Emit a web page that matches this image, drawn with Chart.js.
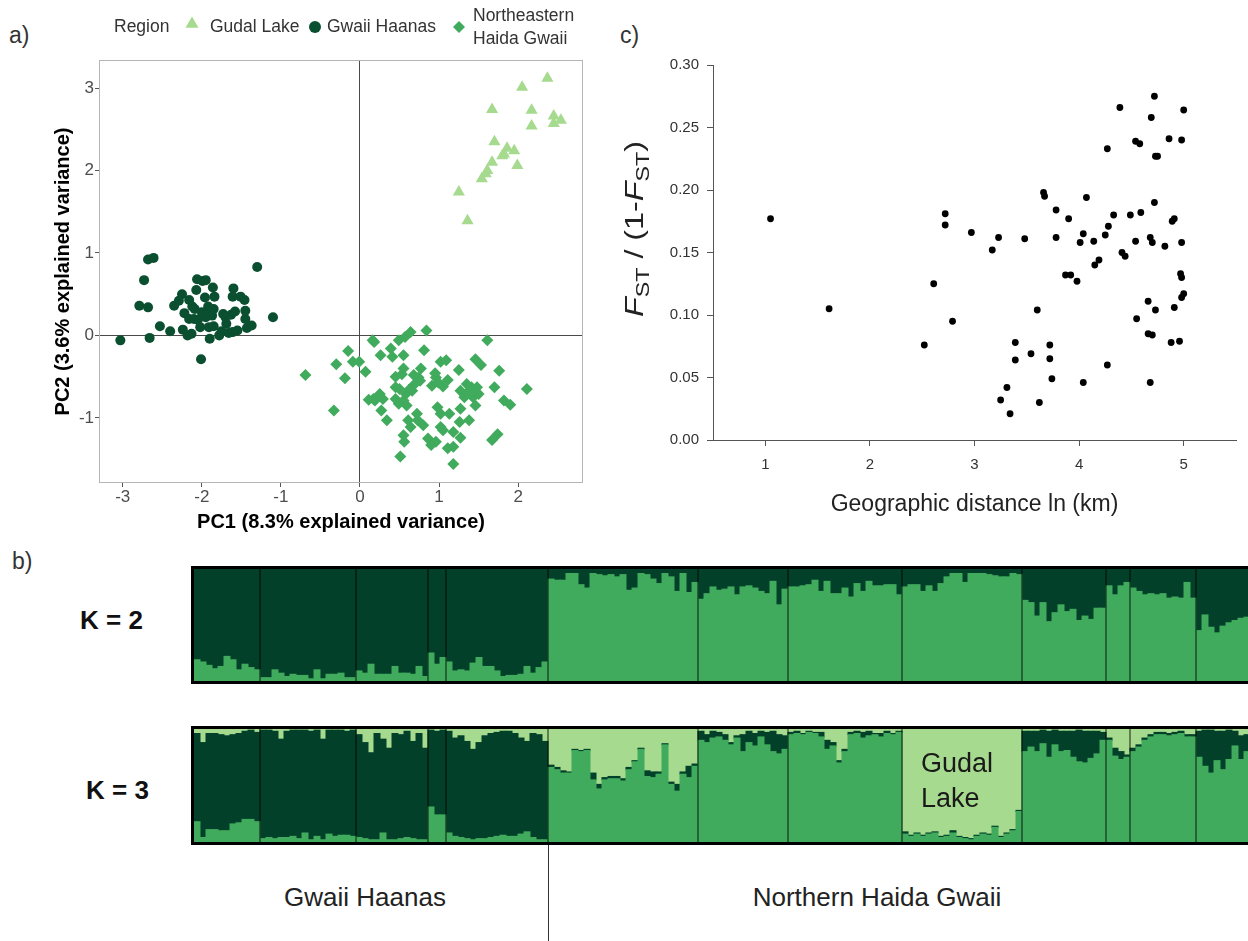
<!DOCTYPE html>
<html>
<head>
<meta charset="utf-8">
<title>Haida Gwaii population structure</title>
<script src="https://cdn.jsdelivr.net/npm/chart.js@4.4.1/dist/chart.umd.min.js"></script>
<style>
  html, body { margin: 0; padding: 0; background: #fff; }
  body { width: 1248px; height: 941px; overflow: hidden; position: relative;
         font-family: "Liberation Sans", Arial, Helvetica, sans-serif; }
  canvas { position: absolute; }
  .txt { position: absolute; white-space: nowrap; line-height: 1; color: #222; }
</style>
</head>
<body>
<div class="txt" style="left:9px;top:24px;font-size:23px;color:#333">a)</div>
<div class="txt" style="left:620px;top:24px;font-size:23px;color:#333">c)</div>
<div class="txt" style="left:12px;top:550px;font-size:23px;color:#333">b)</div>
<div class="txt" style="left:80px;top:607px;font-size:26px;font-weight:bold;color:#111">K = 2</div>
<div class="txt" style="left:86px;top:777px;font-size:26px;font-weight:bold;color:#111">K = 3</div>
<div class="txt" style="left:365px;top:884px;font-size:26px;transform:translateX(-50%)">Gwaii Haanas</div>
<div class="txt" style="left:877px;top:884px;font-size:26px;transform:translateX(-50%)">Northern Haida Gwaii</div>

<canvas id="pca" width="610" height="545" style="left:0;top:0"></canvas>
<canvas id="ibd" width="638" height="545" style="left:610px;top:0"></canvas>
<canvas id="k2" width="1270" height="140" style="left:0;top:555px"></canvas>
<canvas id="k3" width="1270" height="226" style="left:0;top:715px"></canvas>

<script>
// ---------- a) PCA scores (PC1, PC2) per region ----------
const gudalLake = [
  [2.37,3.12],[2.05,3.01],[1.67,2.74],[2.17,2.73],[2.45,2.66],[2.54,2.61],[2.45,2.57],
  [2.17,2.54],[1.70,2.35],[1.86,2.27],[1.82,2.20],[1.95,2.24],[1.99,2.06],[1.67,2.10],
  [1.61,2.00],[1.59,1.96],[1.54,1.90],[1.25,1.74],[1.36,1.39],[1.80,2.18]
];
const gwaiiHaanas = [
  [-3.03,-0.06],[-2.66,-0.03],[-2.68,0.92],[-2.61,0.94],[-2.73,0.67],[-2.79,0.36],[-2.68,0.34],
  [-2.53,0.11],[-2.40,0.05],[-2.35,0.36],[-2.25,0.50],[-2.29,0.42],[-2.16,0.43],[-2.24,0.07],
  [-2.18,0.00],[-2.13,0.02],[-2.16,0.20],[-2.09,0.32],[-2.06,0.68],[-2.07,0.55],[-2.01,-0.29],
  [-1.99,0.66],[-1.96,0.46],[-1.95,0.67],[-1.86,0.58],[-1.84,0.47],[-1.85,0.32],[-1.90,-0.04],
  [-1.78,0.00],[-2.05,0.19],[-2.02,0.10],[-1.95,0.22],[-1.91,0.10],[-1.87,0.24],[-1.85,0.11],
  [-1.89,0.28],[-2.00,0.28],[-2.10,0.20],[-1.69,0.14],[-1.63,0.25],[-1.60,0.57],[-1.61,0.47],
  [-1.58,0.29],[-1.61,0.04],[-1.55,0.06],[-1.51,0.47],[-1.46,0.43],[-1.45,0.30],[-1.45,0.20],
  [-1.43,0.09],[-1.37,0.12],[-1.30,0.83],[-1.10,0.22],[-1.70,0.22],[-1.73,0.26],[-2.12,0.35],
  [-1.92,0.35],[-1.75,0.05],[-2.22,0.27],[-1.66,0.03]
];
const northeastern = [
  [-0.69,-0.48],[-0.33,-0.91],[-0.30,-0.35],[-0.19,-0.52],[-0.15,-0.19],[-0.09,-0.32],[-0.01,-0.32],
  [0.07,-0.44],[0.16,-0.06],[0.18,-0.08],[0.26,-0.24],[0.11,-0.78],[0.17,-0.77],[0.29,-0.77],
  [0.27,-0.91],[0.34,-1.03],[0.39,-0.16],[0.41,-0.26],[0.45,-0.63],[0.45,-0.77],[0.49,-0.06],
  [0.57,-0.02],[0.64,0.04],[0.55,-0.24],[0.55,-0.40],[0.53,-0.47],[0.55,-0.79],[0.59,-0.85],
  [0.58,-0.71],[0.66,-0.67],[0.68,-0.60],[0.72,-0.95],[0.64,-1.11],[0.55,-1.21],[0.56,-1.29],
  [0.51,-1.47],[0.61,-1.03],[0.74,-0.51],[0.77,-0.40],[0.76,-0.55],[0.81,-0.18],[0.84,0.06],
  [0.80,-1.09],[0.86,-1.25],[0.95,-0.46],[0.96,-0.51],[0.99,-0.57],[0.98,-0.87],[1.02,-0.95],
  [1.02,-0.32],[1.09,-0.30],[1.02,-1.11],[1.05,-1.15],[0.96,-1.29],[1.11,-0.54],[1.13,-0.95],
  [1.18,-1.17],[1.11,-1.37],[1.18,-1.35],[1.18,-1.56],[1.25,-0.42],[1.26,-1.05],[1.27,-1.24],
  [1.35,-0.59],[1.36,-0.69],[1.38,-1.03],[1.41,-0.63],[1.43,-0.75],[1.45,-0.67],[1.46,-0.29],
  [1.53,-0.36],[1.46,-0.85],[1.48,-0.63],[1.61,-0.06],[1.67,-1.27],[1.70,-0.63],[1.74,-1.20],
  [1.76,-0.43],[1.82,-0.79],[1.90,-0.84],[2.11,-0.65],[1.27,-0.67],[1.32,-0.75],[0.91,-0.61],
  [0.68,-0.48],[0.73,-1.03],[0.50,-0.65],[0.45,-0.50],[0.49,-0.83],[0.19,-0.79],[0.25,-0.71],
  [0.90,-1.33],[1.27,-0.89],[1.50,-0.71],[1.40,-0.71],[0.62,-0.66],[1.05,-0.62]
];
const regionNames = ['Gudal Lake', 'Gwaii Haanas', ['Northeastern', 'Haida Gwaii']];

// ---------- c) isolation by distance: [ln km, FST/(1-FST)] ----------
const isolationByDistance = [
  [1.05,0.177],[1.61,0.105],[2.52,0.076],[2.61,0.125],[2.72,0.181],[2.72,0.172],[2.79,0.095],
  [2.97,0.166],[3.17,0.152],[3.23,0.162],[3.25,0.032],[3.31,0.042],[3.34,0.021],[3.39,0.064],
  [3.39,0.078],[3.48,0.161],[3.54,0.069],[3.60,0.104],[3.62,0.030],[3.66,0.198],[3.67,0.195],
  [3.72,0.076],[3.72,0.065],[3.74,0.049],[3.78,0.184],[3.78,0.162],[3.87,0.132],[3.90,0.177],
  [3.92,0.132],[3.98,0.127],[4.01,0.158],[4.04,0.165],[4.04,0.046],[4.07,0.194],[4.14,0.159],
  [4.15,0.140],[4.19,0.144],[4.25,0.164],[4.27,0.233],[4.27,0.060],[4.28,0.171],[4.33,0.180],
  [4.39,0.266],[4.41,0.150],[4.44,0.147],[4.49,0.180],[4.54,0.239],[4.58,0.237],[4.54,0.159],
  [4.55,0.097],[4.59,0.182],[4.66,0.085],[4.66,0.111],[4.68,0.046],[4.69,0.258],[4.68,0.162],
  [4.70,0.158],[4.70,0.084],[4.72,0.275],[4.73,0.227],[4.75,0.227],[4.72,0.190],[4.73,0.104],
  [4.82,0.155],[4.86,0.241],[4.88,0.078],[4.89,0.175],[4.91,0.177],[4.91,0.106],[4.96,0.079],
  [4.97,0.133],[4.98,0.158],[4.98,0.240],[4.98,0.130],[5.00,0.264],[4.98,0.114],[5.00,0.117]
];
const distanceTicks = [1, 2, 3, 4, 5];

// ---------- b) STRUCTURE membership, individuals ordered by sampling site ----------
// individuals per sampling site, left to right (first five: Gwaii Haanas)
const popSizes = [11, 16, 12, 3, 17, 25, 15, 19, 20, 14, 4, 11, 10];
const gwaiiSiteCount = 5;
const gudalSiteIndex = 8;

// K = 2: membership in the green cluster; the rest belongs to the dark cluster
const k2Green = [
  0.19,0.17,0.14,0.11,0.13,0.22,0.19,0.10,0.15,0.12,0.10,
  0.03,0.03,0.10,0.07,0.04,0.06,0.05,0.05,0.02,0.10,0.02,0.06,0.06,0.07,0.03,0.03,
  0.09,0.07,0.15,0.06,0.06,0.06,0.13,0.07,0.07,0.06,0.13,0.04,
  0.25,0.15,0.21,
  0.17,0.09,0.10,0.09,0.16,0.21,0.13,0.13,0.09,0.04,0.05,0.05,0.06,0.13,0.07,0.12,0.17,
  0.91,0.90,0.90,0.96,0.96,0.86,0.83,0.96,0.95,0.94,0.95,0.93,0.95,0.81,0.83,0.96,0.95,0.91,0.87,0.96,0.93,0.80,0.96,0.79,0.88,
  0.73,0.78,0.84,0.81,0.82,0.84,0.77,0.84,0.85,0.83,0.80,0.78,0.89,0.68,0.82,
  0.84,0.84,0.85,0.86,0.90,0.80,0.89,0.78,0.78,0.83,0.75,0.87,0.80,0.89,0.85,0.85,0.86,0.86,0.77,
  0.84,0.86,0.86,0.80,0.85,0.80,0.87,0.93,0.96,0.96,0.88,0.96,0.96,0.96,0.95,0.94,0.93,0.93,0.96,0.95,
  0.72,0.70,0.58,0.70,0.53,0.61,0.68,0.62,0.64,0.54,0.58,0.55,0.65,0.65,
  0.85,0.77,0.85,0.88,
  0.83,0.80,0.77,0.78,0.77,0.78,0.74,0.75,0.74,0.88,0.74,
  0.45,0.59,0.48,0.43,0.49,0.52,0.54,0.56,0.57,0.58
];

// K = 3: green cluster (bottom) and Gudal cluster (top); the dark cluster fills the middle
const k3Green = [
  0.18,0.04,0.11,0.11,0.10,0.10,0.16,0.17,0.20,0.20,0.18,
  0.03,0.04,0.03,0.04,0.04,0.05,0.03,0.08,0.02,0.05,0.02,0.07,0.05,0.06,0.06,0.05,
  0.04,0.03,0.02,0.02,0.08,0.02,0.02,0.03,0.04,0.03,0.02,0.02,
  0.31,0.24,0.24,
  0.08,0.05,0.04,0.03,0.02,0.03,0.03,0.04,0.05,0.06,0.05,0.05,0.07,0.09,0.04,0.02,0.02,
  0.66,0.64,0.61,0.61,0.81,0.80,0.81,0.55,0.47,0.55,0.56,0.56,0.54,0.64,0.71,0.82,0.58,0.57,0.60,0.86,0.51,0.45,0.60,0.57,0.67,
  0.90,0.88,0.92,0.93,0.90,0.86,0.92,0.80,0.88,0.85,0.93,0.86,0.80,0.78,0.82,
  0.95,0.96,0.95,0.97,0.96,0.93,0.82,0.85,0.70,0.80,0.95,0.96,0.92,0.94,0.95,0.93,0.96,0.95,0.97,
  0.07,0.05,0.07,0.05,0.07,0.08,0.04,0.05,0.08,0.04,0.03,0.02,0.05,0.07,0.06,0.13,0.04,0.07,0.10,0.27,
  0.80,0.84,0.80,0.87,0.75,0.86,0.80,0.81,0.75,0.71,0.70,0.74,0.78,0.90,
  0.90,0.76,0.73,0.75,
  0.80,0.84,0.90,0.93,0.95,0.95,0.94,0.95,0.96,0.93,0.93,
  0.75,0.67,0.61,0.72,0.64,0.73,0.85,0.73,0.80,0.79
];
const k3Gudal = [
  0.04,0.12,0.04,0.04,0.05,0.06,0.05,0.04,0.02,0.01,0.03,
  0.01,0.01,0.02,0.09,0.02,0.01,0.01,0.01,0.02,0.01,0.09,0.01,0.01,0.01,0.02,0.01,
  0.05,0.12,0.21,0.04,0.09,0.17,0.04,0.05,0.02,0.11,0.04,0.17,
  0.01,0.02,0.01,
  0.02,0.08,0.06,0.11,0.18,0.12,0.06,0.04,0.03,0.02,0.02,0.04,0.08,0.11,0.04,0.05,0.11,
  0.32,0.34,0.37,0.38,0.18,0.19,0.18,0.39,0.49,0.43,0.42,0.42,0.44,0.34,0.28,0.17,0.37,0.38,0.38,0.13,0.47,0.49,0.38,0.33,0.31,
  0.02,0.05,0.02,0.03,0.05,0.12,0.06,0.05,0.02,0.04,0.02,0.03,0.02,0.05,0.06,
  0.03,0.02,0.04,0.02,0.03,0.03,0.10,0.12,0.28,0.18,0.03,0.02,0.03,0.02,0.04,0.04,0.02,0.04,0.02,
  0.91,0.94,0.92,0.94,0.92,0.91,0.95,0.94,0.90,0.95,0.96,0.97,0.94,0.92,0.93,0.86,0.95,0.92,0.89,0.72,
  0.02,0.02,0.02,0.01,0.02,0.01,0.02,0.02,0.02,0.01,0.02,0.02,0.02,0.03,
  0.08,0.17,0.20,0.23,
  0.17,0.14,0.08,0.05,0.03,0.03,0.04,0.03,0.02,0.05,0.05,
  0.02,0.01,0.01,0.02,0.02,0.01,0.02,0.06,0.05,0.03
];

// ---------- shared styling ----------
const FONT = '"Liberation Sans", Arial, Helvetica, sans-serif';
Chart.defaults.font.family = FONT;
const GREEN_DARK = '#03402a';
const GREEN_MID = '#41ab5d';
const GREEN_LIGHT = '#a6da8e';
const POINT_DARK = '#0b4f31';

const toXY = pts => pts.map(p => ({ x: p[0], y: p[1] }));

function drawMarker(ctx, style, x, y, r) {
  ctx.beginPath();
  if (style === 'triangle') {
    for (let k = 0; k < 3; k++) {
      const a = k * 2 * Math.PI / 3;
      ctx.lineTo(x + Math.sin(a) * r, y - Math.cos(a) * r);
    }
  } else if (style === 'rectRot') {
    ctx.moveTo(x - r, y); ctx.lineTo(x, y - r); ctx.lineTo(x + r, y); ctx.lineTo(x, y + r);
  } else {
    ctx.arc(x, y, r, 0, Math.PI * 2);
  }
  ctx.closePath();
  ctx.fill();
}

// ---------- a) PCA ----------
const panelBorder = {
  id: 'panelBorder',
  beforeDatasetsDraw(chart) {
    const { ctx, chartArea: a } = chart;
    ctx.save();
    ctx.strokeStyle = '#b5b5b5';
    ctx.lineWidth = 1;
    ctx.strokeRect(a.left + 0.5, a.top + 0.5, a.width - 1, a.height - 1);
    ctx.restore();
  }
};

const regionKey = {
  id: 'regionKey',
  afterDraw(chart) {
    const ctx = chart.ctx;
    const markerX = [192, 315, 459];
    const markerY = [24, 27, 27];
    const textX = [210, 327, 473];
    ctx.save();
    ctx.font = '17.5px ' + FONT;
    ctx.fillStyle = '#333';
    ctx.textBaseline = 'middle';
    ctx.textAlign = 'left';
    ctx.fillText('Region', 114, 27);
    chart.data.datasets.forEach((ds, i) => {
      ctx.fillStyle = ds.backgroundColor;
      drawMarker(ctx, ds.pointStyle, markerX[i], markerY[i], ds.pointStyle === 'triangle' ? 7.5 : 6);
      ctx.fillStyle = '#333';
      const lines = [].concat(regionNames[i]);
      if (lines.length === 1) {
        ctx.fillText(lines[0], textX[i], 27);
      } else {
        ctx.fillText(lines[0], textX[i], 16);
        ctx.fillText(lines[1], textX[i], 39);
      }
    });
    ctx.restore();
  }
};

const zeroLine = c => (c.tick && c.tick.value === 0) ? '#4a4a4a' : 'rgba(0,0,0,0)';

new Chart(document.getElementById('pca'), {
  type: 'scatter',
  data: {
    datasets: [
      { label: 'Gudal Lake', data: toXY(gudalLake), pointStyle: 'triangle', pointRadius: 7,
        backgroundColor: GREEN_LIGHT, borderColor: GREEN_LIGHT, pointBorderWidth: 0 },
      { label: 'Gwaii Haanas', data: toXY(gwaiiHaanas), pointStyle: 'circle', pointRadius: 5,
        backgroundColor: POINT_DARK, borderColor: POINT_DARK, pointBorderWidth: 0 },
      { label: 'Northeastern Haida Gwaii', data: toXY(northeastern), pointStyle: 'rectRot', pointRadius: 6,
        backgroundColor: GREEN_MID, borderColor: GREEN_MID, pointBorderWidth: 0 }
    ]
  },
  options: {
    responsive: false,
    animation: false,
    layout: { padding: { left: 0, right: 27, top: 60, bottom: 0 } },
    plugins: { legend: { display: false }, tooltip: { enabled: false } },
    scales: {
      x: {
        type: 'linear', min: -3.3, max: 2.82,
        afterFit(s) { s.height = 62; },
        ticks: { stepSize: 1, includeBounds: false, color: '#4d4d4d', font: { size: 17 }, padding: 0 },
        grid: { color: zeroLine, tickColor: '#555', tickLength: 4, lineWidth: 1 },
        border: { display: false },
        title: { display: true, text: 'PC1 (8.3% explained variance)', color: '#000',
                 font: { size: 20, weight: 'bold' }, padding: { top: 0, bottom: 11 } }
      },
      y: {
        type: 'linear', min: -1.79, max: 3.34,
        afterFit(s) { s.width = 99; },
        ticks: { stepSize: 1, includeBounds: false, color: '#4d4d4d', font: { size: 17 }, padding: 1 },
        grid: { color: zeroLine, tickColor: '#555', tickLength: 4, lineWidth: 1 },
        border: { display: false },
        title: { display: true, text: 'PC2 (3.6% explained variance)', color: '#000',
                 font: { size: 20, weight: 'bold' }, padding: { top: 51, bottom: 0 } }
      }
    }
  },
  plugins: [panelBorder, regionKey]
});

// ---------- c) isolation by distance ----------
// rotated y title with italic F and subscript ST, stretched along its baseline
const fstTitle = {
  id: 'fstTitle',
  afterDraw(chart) {
    const ctx = chart.ctx;
    const parts = [
      { t: 'F', style: 'italic', size: 25, dy: 0 },
      { t: 'ST', style: '', size: 18, dy: 6 },
      { t: ' / (1-', style: '', size: 25, dy: 0 },
      { t: 'F', style: 'italic', size: 25, dy: 0 },
      { t: 'ST', style: '', size: 18, dy: 6 },
      { t: ')', style: '', size: 25, dy: 0 }
    ];
    const titleLength = 176;
    ctx.save();
    ctx.translate(25, 229);
    ctx.rotate(-Math.PI / 2);
    ctx.fillStyle = '#222';
    ctx.textBaseline = 'alphabetic';
    ctx.textAlign = 'left';
    let total = 0;
    parts.forEach(p => {
      ctx.font = `${p.style} ${p.size}px ${FONT}`;
      p.w = ctx.measureText(p.t).width;
      total += p.w;
    });
    ctx.scale(titleLength / total, 1);
    let x = -total / 2;
    parts.forEach(p => {
      ctx.font = `${p.style} ${p.size}px ${FONT}`;
      ctx.fillText(p.t, x, 8 + p.dy);
      x += p.w;
    });
    ctx.restore();
  }
};

new Chart(document.getElementById('ibd'), {
  type: 'scatter',
  data: {
    datasets: [{ label: 'Population pairs', data: toXY(isolationByDistance), pointStyle: 'circle',
                 pointRadius: 3.4, backgroundColor: '#000', borderColor: '#000', pointBorderWidth: 0 }]
  },
  options: {
    responsive: false,
    animation: false,
    layout: { padding: { left: 0, right: 12, top: 65, bottom: 0 } },
    plugins: { legend: { display: false }, tooltip: { enabled: false } },
    scales: {
      x: {
        type: 'linear', min: 0.5, max: 5.5,
        afterFit(s) { s.height = 105; },
        afterBuildTicks(s) { s.ticks = distanceTicks.map(v => ({ value: v })); },
        ticks: { color: '#333', font: { size: 15 }, padding: 10 },
        grid: { drawOnChartArea: false, tickColor: '#555', tickLength: 6 },
        border: { color: '#555', width: 1 },
        title: { display: true, text: 'Geographic distance ln (km)', color: '#222',
                 font: { size: 23 }, padding: { top: 0, bottom: 27 } }
      },
      y: {
        type: 'linear', min: 0, max: 0.30,
        afterFit(s) { s.width = 103; },
        ticks: { stepSize: 0.05, includeBounds: false, color: '#333', font: { size: 15 }, padding: 8,
                 callback: v => v.toFixed(2) },
        grid: { drawOnChartArea: false, tickColor: '#555', tickLength: 6 },
        border: { color: '#555', width: 1 }
      }
    }
  },
  plugins: [fstTitle]
});

// ---------- b) STRUCTURE bar plots ----------
const sampleIds = k2Green.map((_, i) => 'ind' + (i + 1));
const siteEdges = popSizes.reduce((acc, n) => { acc.push((acc.length ? acc[acc.length - 1] : 0) + n); return acc; }, []);

function edgePixel(scale, idx) {
  return (scale.getPixelForValue(idx - 1) + scale.getPixelForValue(idx)) / 2;
}

function structureOverlay(withLabels) {
  return {
    id: 'structureOverlay',
    afterDatasetsDraw(chart) {
      const { ctx, chartArea: a, scales: { x } } = chart;
      ctx.save();
      // site separators
      ctx.strokeStyle = 'rgba(0,0,0,0.72)';
      ctx.lineWidth = 1.2;
      siteEdges.slice(0, -1).forEach(idx => {
        const px = edgePixel(x, idx);
        ctx.beginPath(); ctx.moveTo(px, a.top); ctx.lineTo(px, a.bottom); ctx.stroke();
      });
      // frame
      ctx.strokeStyle = '#000';
      ctx.lineWidth = 3;
      ctx.strokeRect(a.left - 1.5, a.top - 1.5, a.width + 3, a.height + 3);
      if (withLabels) {
        // boundary between the southern and northern regions
        const split = edgePixel(x, siteEdges[gwaiiSiteCount - 1]);
        ctx.strokeStyle = '#333';
        ctx.lineWidth = 1;
        ctx.beginPath(); ctx.moveTo(Math.round(split) + 0.5, a.bottom + 3); ctx.lineTo(Math.round(split) + 0.5, chart.height); ctx.stroke();
        // Gudal Lake site label
        const g0 = edgePixel(x, siteEdges[gudalSiteIndex - 1]);
        ctx.fillStyle = '#1a1a1a';
        ctx.font = '27px ' + FONT;
        ctx.textAlign = 'left';
        ctx.textBaseline = 'middle';
        ctx.fillText('Gudal', g0 + 19, 50);
        ctx.fillText('Lake', g0 + 19, 85);
      }
      ctx.restore();
    }
  };
}

const barOptions = (padTop, padBottom) => ({
  responsive: false,
  animation: false,
  layout: { padding: { left: 194, right: 14, top: padTop, bottom: padBottom } },
  datasets: { bar: { barPercentage: 1, categoryPercentage: 1, borderWidth: 0, inflateAmount: 0.5 } },
  plugins: { legend: { display: false }, tooltip: { enabled: false } },
  scales: {
    x: { display: false, stacked: true },
    y: { display: false, stacked: true, min: 0, max: 1 }
  }
});

new Chart(document.getElementById('k2'), {
  type: 'bar',
  data: {
    labels: sampleIds,
    datasets: [
      { label: 'Cluster 1', data: k2Green, backgroundColor: GREEN_MID },
      { label: 'Cluster 2', data: k2Green.map(v => 1 - v), backgroundColor: GREEN_DARK }
    ]
  },
  options: barOptions(14, 14),
  plugins: [structureOverlay(false)]
});

new Chart(document.getElementById('k3'), {
  type: 'bar',
  data: {
    labels: sampleIds,
    datasets: [
      { label: 'Cluster 1', data: k3Green, backgroundColor: GREEN_MID },
      { label: 'Cluster 2', data: k3Green.map((v, i) => 1 - v - k3Gudal[i]), backgroundColor: GREEN_DARK },
      { label: 'Cluster 3', data: k3Gudal, backgroundColor: GREEN_LIGHT }
    ]
  },
  options: barOptions(14, 99),
  plugins: [structureOverlay(true)]
});
</script>
</body>
</html>
